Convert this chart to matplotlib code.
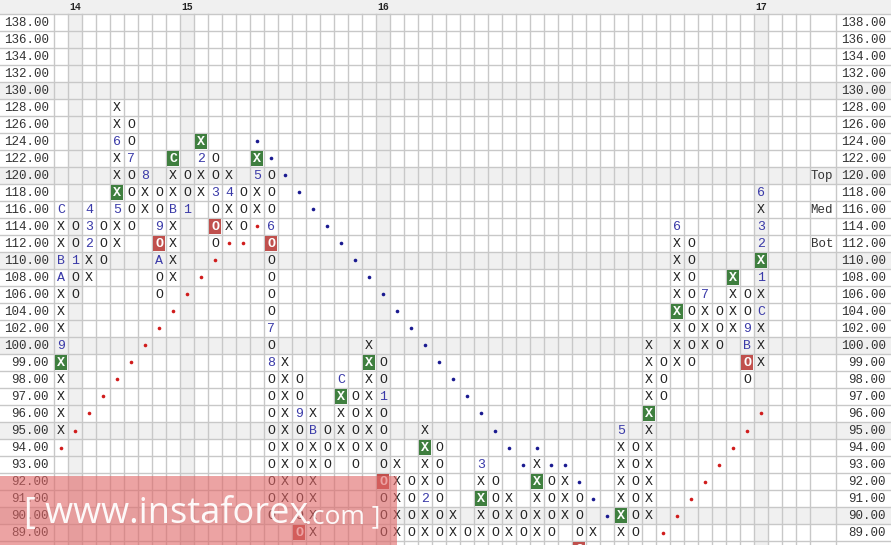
import matplotlib
matplotlib.use('Agg')
import matplotlib.pyplot as plt
from matplotlib.patches import Rectangle

# price rows, top to bottom (last row only half visible)
PRICES = [138, 136, 134, 132, 130, 128, 126, 124, 122, 120, 118, 116, 114, 112,
          110, 108, 106, 104, 102, 100, 99, 98, 97, 96, 95, 94, 93, 92, 91, 90, 89, 88]

YEARS = ['14', '15', '16', '17']
YEAR_COLS = [1, 9, 23, 50]

# each column: (highest price, boxes going down)
# X / O plain, gX = green signal box, RO = red signal box, 1..9 A B C = month marks
COLUMNS = [
    (116, 'C X X B A X X X 9 gX X X X X'),
    (114, 'O O 1 O O'),
    (116, '4 3 2 X X'),
    (114, 'O O O'),
    (128, 'X X 6 X X gX 5 X X'),
    (126, 'O O 7 O O O O'),
    (120, '8 X X'),
    (118, 'O O 9 RO A O O'),
    (122, 'gC X X B X X X X'),
    (120, 'O O 1'),
    (124, 'gX 2 X X'),
    (122, 'O O 3 O RO O'),
    (120, 'X 4 X X'),
    (118, 'O O O'),
    (122, 'gX 5 X X'),
    (120, 'O O O 6 RO O O O O 7 O 8 O O O O O O O O O'),
    (99, 'X X X X X X X X X'),
    (98, 'O O 9 O O O O O O RO'),
    (96, 'X B X X X X X X'),
    (95, 'O O O'),
    (98, 'C gX X X X'),
    (97, 'O O O O O'),
    (100, 'X gX X X X X X'),
    (99, 'O O 1 O O O O RO O O O'),
    (93, 'X X X X X'),
    (92, 'O O O O'),
    (95, 'X gX X X 2 X X'),
    (94, 'O O O O O O'),
    (90, 'X X'),
    (89, 'O'),
    (93, '3 X gX X X'),
    (92, 'O O O O'),
    (91, 'X X X'),
    (90, 'O O'),
    (93, 'X gX X X X'),
    (92, 'O O O O'),
    (92, 'X X X'),
    (91, 'O O O RO'),
    (89, 'X'),
    (None, ''),
    (95, '5 X X X X gX X'),
    (94, 'O O O O O O'),
    (100, 'X X X X gX X X X X X X'),
    (99, 'O O O'),
    (114, '6 X X X X gX X X X'),
    (112, 'O O O O O O O O'),
    (106, '7 X X X'),
    (104, 'O O O'),
    (108, 'gX X X X'),
    (106, 'O O 9 B RO O'),
    (118, '6 X 3 2 gX 1 X C X X X'),
    (None, ''),
    (None, ''),
    (None, ''),
]

# trend lines
RED_DOT_COLS = [0, 1, 2, 3, 4, 5, 6, 7, 8, 9, 10, 11, 12, 13, 14,
                43, 44, 45, 46, 47, 48, 49, 50]
RED_DOT_PRICES = [94, 95, 96, 97, 98, 99, 100, 102, 104, 106, 108, 110, 112, 112, 114,
                  89, 90, 91, 92, 93, 94, 95, 96]
BLUE_DOT_COLS = [14, 15, 16, 17, 18, 19, 20, 21, 22, 23, 24, 25, 26, 27, 28, 29,
                 30, 31, 32, 33, 34, 35, 36, 37, 38, 39]
BLUE_DOT_PRICES = [124, 122, 120, 118, 116, 114, 112, 110, 108, 106, 104, 102, 100, 99,
                   98, 97, 96, 95, 94, 93, 94, 93, 93, 92, 91, 90]

SIDE_LABELS = ['Top', 'Med', 'Bot']
SIDE_PRICES = [120, 116, 112]

GRID = '#c8c8c8'
SHADE = '#f0f0f0'
MONO = 'Liberation Mono'

W, H = 891, 545
CW, CH = 14, 17        # cell size in pixels
LEFT, TOP = 54, 14     # label strip / header height in pixels
N_COLS = len(COLUMNS)


def draw_box(ax, c, r, tok):
    x, y = c + 0.5, r + 0.55
    if tok[0] in 'gR' and len(tok) == 2:
        fc = '#3f7f3f' if tok[0] == 'g' else '#c0504d'
        ax.add_patch(Rectangle((c + 0.04, r + 0.04), 0.92, 0.92, fc=fc, lw=0, zorder=3))
        ax.text(x, y, tok[1], ha='center', va='center', family=MONO, size=9.5,
                weight='bold', color='white', zorder=4)
    elif tok in ('X', 'O'):
        ax.text(x, y, tok, ha='center', va='center', family=MONO, size=9.5,
                color='#222222', zorder=4)
    else:
        ax.text(x, y, tok, ha='center', va='center', family=MONO, size=9.5,
                color='#3a3aa8', zorder=4)


fig = plt.figure(figsize=(W / 100, H / 100), dpi=100)
ax = fig.add_axes([0, 0, 1, 1])
x0, x1 = -LEFT / CW, (W - LEFT) / CW
y0, y1 = -TOP / CH, (H - TOP) / CH
ax.set_xlim(x0, x1)
ax.set_ylim(y1, y0)
ax.axis('off')

row_of = {p: i for i, p in enumerate(PRICES)}

# shading
ax.axhspan(y0, 0, color=SHADE, lw=0, zorder=0)
for i in range(len(PRICES)):
    if i % 5 == 4:
        ax.axhspan(i, i + 1, color=SHADE, lw=0, zorder=0)
for c in YEAR_COLS:
    ax.add_patch(Rectangle((c, 0), 1, y1, color=SHADE, lw=0, zorder=0))

# grid
for i in range(len(PRICES) + 1):
    ax.plot([x0, x1], [i, i], color=GRID, lw=1, zorder=1)
side_x = N_COLS + 26 / CW
for c in list(range(N_COLS + 1)) + [side_x]:
    ax.plot([c, c], [0, y1], color=GRID, lw=1, zorder=1)

# year header
for lab, c in zip(YEARS, YEAR_COLS):
    ax.text(c + 0.5, y0 / 2, lab, ha='center', va='center', family=MONO, size=7,
            weight='bold', color='#222222')

# price labels both sides (the half row at the bottom has none)
for i, p in enumerate(PRICES[:-1]):
    ax.text(-5 / CW, i + 0.55, f'{p:.2f}', ha='right', va='center', family=MONO,
            size=9, color='#333333', zorder=2)
    ax.text(x1 - 5 / CW, i + 0.55, f'{p:.2f}', ha='right', va='center', family=MONO,
            size=9, color='#333333', zorder=2)
for lab, p in zip(SIDE_LABELS, SIDE_PRICES):
    ax.text(side_x - 3 / CW, row_of[p] + 0.55, lab, ha='right', va='center',
            family=MONO, size=9, color='#333333', zorder=2)

# boxes
for c, (top, boxes) in enumerate(COLUMNS):
    if top is None:
        continue
    r0 = row_of[top]
    for k, tok in enumerate(boxes.split()):
        draw_box(ax, c, r0 + k, tok)

# trend line dots
ax.plot([c + 0.5 for c in RED_DOT_COLS], [row_of[p] + 0.5 for p in RED_DOT_PRICES],
        'o', ms=2.6, color='#d01c1c', mew=0, zorder=4)
ax.plot([c + 0.5 for c in BLUE_DOT_COLS], [row_of[p] + 0.5 for p in BLUE_DOT_PRICES],
        'o', ms=2.6, color='#1a1a90', mew=0, zorder=4)

# watermark
fig.patches.append(Rectangle((0, 0), 397 / W, 69 / H, transform=fig.transFigure,
                             fc='#e06666', alpha=0.6, lw=0, zorder=10))
fig.text(24 / W, 22 / H, '[ www.instaforex', family='Open Sans', size=26,
         color='white', alpha=0.95, va='baseline', zorder=11)
fig.text(305 / W, 22 / H, '.com ]', family='Open Sans', size=19,
         color='white', alpha=0.95, va='baseline', zorder=11)

fig.savefig('out.png', dpi=100)
